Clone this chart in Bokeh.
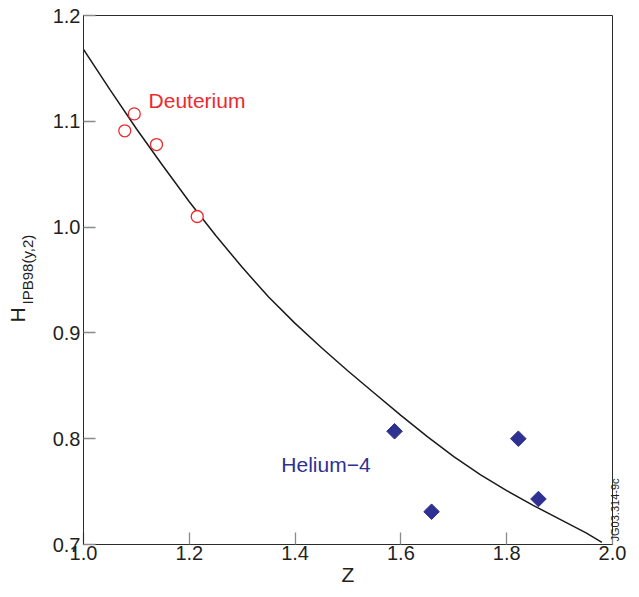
import numpy as np
from bokeh.plotting import figure
from bokeh.models import Range1d, FixedTicker, Label, LinearAxis
from bokeh.embed import file_html
from bokeh.resources import INLINE

# ---- data ----
deut_z = [1.078, 1.096, 1.138, 1.215]
deut_h = [1.091, 1.107, 1.078, 1.010]

he_z = [1.588, 1.658, 1.822, 1.860]
he_h = [0.807, 0.731, 0.800, 0.743]

curve_z = [1.00, 1.05, 1.10, 1.15, 1.20, 1.25, 1.30, 1.35, 1.40, 1.45, 1.50,
           1.55, 1.60, 1.65, 1.70, 1.75, 1.80, 1.85, 1.90, 1.95, 1.98]
curve_h = [1.168, 1.130, 1.093, 1.058, 1.024, 0.992, 0.962, 0.934, 0.909, 0.886, 0.864,
           0.843, 0.822, 0.802, 0.783, 0.766, 0.751, 0.737, 0.724, 0.711, 0.702]

x_ticks = [1.0, 1.2, 1.4, 1.6, 1.8, 2.0]
x_tick_labels = ["1.0", "1.2", "1.4", "1.6", "1.8", "2.0"]
y_ticks = [0.7, 0.8, 0.9, 1.0, 1.1, 1.2]
y_tick_labels = ["0.7", "0.8", "0.9", "1.0", "1.1", "1.2"]

x_title = "Z"
y_title_main = "H"
y_title_sub = "IPB98(y,2)"
fig_code = "JG03.314-9c"

FONT = "Liberation Sans"
RED = "#ec2a2e"
NAVY = "#2e3192"
DARK = "#2b2b2b"
TXT = "#231f20"
NB = "\u00a0"

p = figure(width=631, height=592, output_backend="svg", toolbar_location=None,
           x_range=Range1d(1.0, 2.0), y_range=Range1d(0.7, 1.2),
           min_border_left=83, min_border_right=19, min_border_top=15, min_border_bottom=48)
p.grid.visible = False
p.outline_line_color = DARK
p.outline_line_width = 1
p.background_fill_color = "white"
p.border_fill_color = "white"

for ax in (p.xaxis[0], p.yaxis[0]):
    ax.axis_line_color = DARK
    ax.axis_line_width = 1
    ax.major_tick_in = 12
    ax.major_tick_out = 0
    ax.major_tick_line_color = "#8a8a8a"
    ax.major_tick_line_width = 1.3
    ax.minor_tick_line_color = None
    ax.major_label_text_font = FONT
    ax.major_label_text_font_size = "20px"
    ax.major_label_text_color = TXT
    ax.axis_label_text_font = FONT
    ax.axis_label_text_font_style = "normal"
    ax.axis_label_text_color = TXT

p.xaxis.major_label_standoff = 1
p.yaxis.major_label_standoff = 3
p.xaxis.ticker = FixedTicker(ticks=x_ticks)
p.xaxis.major_label_overrides = dict(zip(x_ticks, x_tick_labels))
p.yaxis.ticker = FixedTicker(ticks=y_ticks)
p.yaxis.major_label_overrides = dict(zip(y_ticks, y_tick_labels))

# x title
p.xaxis.axis_label = x_title
p.xaxis.axis_label_text_font_size = "21px"
p.xaxis.axis_label_standoff = 0

# y title: subscript on the main axis, "H" on an outer, tick-less axis
p.yaxis.axis_label = NB * 5 + y_title_sub
p.yaxis.axis_label_text_font_size = "15px"
p.yaxis.axis_label_standoff = 14

def bare_axis(label, size, standoff):
    a = LinearAxis(ticker=FixedTicker(ticks=[]), axis_label=label)
    a.axis_line_color = None
    a.major_tick_line_color = None
    a.minor_tick_line_color = None
    a.major_tick_in = 0
    a.major_tick_out = 0
    a.minor_tick_in = 0
    a.minor_tick_out = 0
    a.major_label_standoff = 0
    a.axis_label_text_font = FONT
    a.axis_label_text_font_style = "normal"
    a.axis_label_text_font_size = size
    a.axis_label_text_color = TXT
    a.axis_label_standoff = standoff
    return a

h_axis = bare_axis(y_title_main + NB * 12, "21px", -13)
p.add_layout(h_axis, "left")

code_axis = bare_axis(fig_code, "11px", 2)
code_axis.axis_label_orientation = np.pi / 2
try:
    code_axis.axis_label_align = "start"
    code_axis.axis_label = NB + fig_code
except Exception:
    code_axis.axis_label = fig_code + NB * 150
p.add_layout(code_axis, "right")

# curve and points
p.line(curve_z, curve_h, line_color="#1a1a1a", line_width=1.5)
p.scatter(deut_z, deut_h, marker="circle", size=12, fill_color="white",
          line_color=RED, line_width=1.3)
p.scatter(he_z, he_h, marker="square", size=11, angle=np.pi / 4,
          fill_color=NAVY, line_color=NAVY)

# series labels
p.add_layout(Label(x=1.123, y=1.1198, text="Deuterium", text_font=FONT,
                   text_font_size="21px", text_color=RED, text_baseline="alphabetic"))
p.add_layout(Label(x=1.374, y=0.7755, text="Helium\u22124", text_font=FONT,
                   text_font_size="21px", text_color=NAVY, text_baseline="alphabetic"))

open("out.html", "w").write(file_html(p, INLINE))
